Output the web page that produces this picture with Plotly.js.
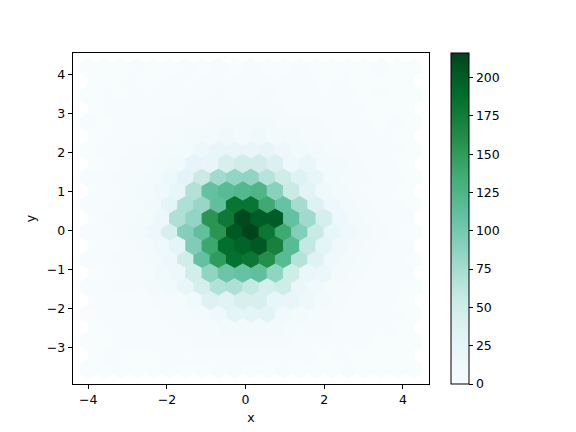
<!DOCTYPE html>
<html><head><meta charset="utf-8">
<script src="https://cdn.plot.ly/plotly-3.0.1.min.js"></script>
<style>html,body{margin:0;padding:0;background:#fff}</style></head>
<body><div id="chart" style="width:576px;height:432px"></div>
<script>
// Hexbin counts, bottom row first. Even rows: columns on the lattice; odd rows: offset by half a cell.
const row00=[0,0,1,0,0,1,0,0,1,1,0,0,1,0,0,0,1,0,0,0,0];
const row01=[0,1,0,0,1,1,1,1,2,2,1,1,1,1,0,1,0,0,0,0];
const row02=[0,0,1,1,1,1,2,3,3,4,4,3,3,2,2,1,1,1,0,0,0];
const row03=[0,1,1,1,2,3,4,5,6,8,7,6,5,4,3,2,1,1,1,0];
const row04=[0,1,1,2,2,3,5,8,12,28,28,30,10,8,4,3,2,1,1,1,0];
const row05=[1,1,1,2,3,5,11,35,32,42,42,25,22,14,6,3,2,1,1,0];
const row06=[1,1,3,3,6,10,22,45,68,70,58,44,52,20,10,5,3,2,1,1,0];
const row07=[0,2,3,5,11,15,48,86,105,108,112,86,52,20,18,8,4,2,1,1];
const row08=[1,2,3,5,8,16,50,110,150,185,180,160,118,66,33,12,6,4,2,1,0];
const row09=[1,2,3,6,12,28,95,140,187,195,202,172,118,58,28,12,6,3,2,1];
const row10=[1,2,4,7,16,42,92,112,155,203,216,180,138,93,55,25,12,6,3,2,0];
const row11=[1,3,4,7,16,70,85,155,178,212,200,200,110,78,45,16,8,4,2,1];
const row12=[1,2,4,5,10,28,70,82,112,182,182,138,108,75,35,16,8,4,2,1,0];
const row13=[1,2,4,6,12,25,68,110,118,122,125,90,55,30,12,7,4,2,1,0];
const row14=[1,2,3,4,9,16,30,55,77,85,86,65,52,35,22,9,5,3,2,1,0];
const row15=[0,1,3,4,7,11,27,22,42,50,50,38,17,20,8,6,4,2,1,0];
const row16=[0,1,2,3,4,6,9,17,22,22,24,26,14,10,6,4,3,1,1,1,0];
const row17=[0,1,2,2,3,5,6,7,12,8,12,8,6,5,3,2,2,1,1,0];
const row18=[1,0,1,2,2,3,4,5,6,6,7,6,5,3,3,2,1,1,0,1,0];
const row19=[0,1,1,1,2,2,3,3,4,4,4,3,2,2,1,1,1,0,0,0];
const row20=[0,1,0,1,1,1,2,2,3,2,2,3,2,1,1,1,1,0,1,0,0];
const row21=[0,0,1,0,1,1,1,1,1,2,1,1,1,1,0,1,0,0,0,0];
const row22=[0,0,0,1,0,0,1,0,1,0,1,0,0,1,0,0,0,0,1,0,0];
const rows=[row00,row01,row02,row03,row04,row05,row06,row07,row08,row09,row10,row11,row12,row13,row14,row15,row16,row17,row18,row19,row20,row21,row22];

const xLow=-4.0, xHigh=4.27, yLow=-3.55, yHigh=4.17;
const xAxisRange=[-4.386,4.661], yAxisRange=[-3.938,4.549];
const maxCount=216;
const xTicks=[-4,-2,0,2,4], yTicks=[-3,-2,-1,0,1,2,3,4];
const stops=['#f7fcfd','#e5f5f9','#ccece6','#99d8c9','#66c2a4','#41ae76','#238b45','#006d2c','#00441b'];
const colorscale=stops.map((c,i)=>[i/(stops.length-1),c]);
const font='"DejaVu Sans", sans-serif', fs=12.5;

function rgb(h){return [1,3,5].map(i=>parseInt(h.slice(i,i+2),16));}
function colorOf(v){
  const t=Math.min(1,v/maxCount)*(stops.length-1), i=Math.min(stops.length-2,Math.floor(t)), f=t-i;
  const a=rgb(stops[i]), b=rgb(stops[i+1]);
  return 'rgb('+a.map((c,n)=>Math.round(c+(b[n]-c)*f)).join(',')+')';
}
const sx=(xHigh-xLow)/20, sy=(yHigh-yLow)/11;
const cx=[],cy=[],cv=[],hexes=[];
function addHex(v,x0,y0){
  cx.push(x0);cy.push(y0);cv.push(v);
  const px=[.5,.5,0,-.5,-.5,0,.5].map(u=>x0+u*sx);
  const py=[-.5,.5,1,.5,-.5,-1,-.5].map(u=>y0+u*sy/3);
  const c=colorOf(v);
  hexes.push({type:'scatter',mode:'lines',x:px,y:py,fill:'toself',fillcolor:c,line:{color:c,width:1},hoverinfo:'skip',showlegend:false});
}
// lattice one first, then the offset lattice, as the original draws them
rows.forEach((r,k)=>{if(k%2===0) r.forEach((v,i)=>addHex(v,xLow+i*sx,yLow+k/2*sy));});
rows.forEach((r,k)=>{if(k%2===1) r.forEach((v,i)=>addHex(v,xLow+(i+.5)*sx,yLow+k/2*sy));});

const cbTrace={type:'scatter',mode:'markers',x:cx,y:cy,showlegend:false,hoverinfo:'skip',
  marker:{size:1,color:cv,cmin:0,cmax:maxCount,colorscale:colorscale,
    colorbar:{xref:'paper',yref:'paper',x:(450.8-73)/356,xanchor:'left',xpad:0,y:0.5,yanchor:'middle',ypad:0,len:1,lenmode:'fraction',
      thickness:17.5,thicknessmode:'pixels',outlinewidth:1,outlinecolor:'#000',
      tick0:0,dtick:25,ticks:'outside',ticklen:4.4,tickwidth:1,tickcolor:'#000',
      tickfont:{family:font,size:fs,color:'#000'}}}};

const axisBase={showgrid:false,zeroline:false,showline:true,mirror:true,linecolor:'#000',linewidth:1,
  ticks:'outside',ticklen:4.4,tickwidth:1,tickcolor:'#000',tickfont:{family:font,size:fs,color:'#000'}};
const layout={width:576,height:432,autosize:false,paper_bgcolor:'#fff',plot_bgcolor:'#fff',showlegend:false,
  margin:{l:73,r:147,t:53,b:48,pad:0},
  xaxis:Object.assign({},axisBase,{range:xAxisRange,tickvals:xTicks,title:{text:'x',font:{family:font,size:fs,color:'#000'},standoff:6}}),
  yaxis:Object.assign({},axisBase,{range:yAxisRange,tickvals:yTicks,title:{text:'y',font:{family:font,size:fs,color:'#000'},standoff:8}})};
Plotly.newPlot('chart',[cbTrace].concat(hexes),layout,{displayModeBar:false,staticPlot:true});
</script></body></html>
